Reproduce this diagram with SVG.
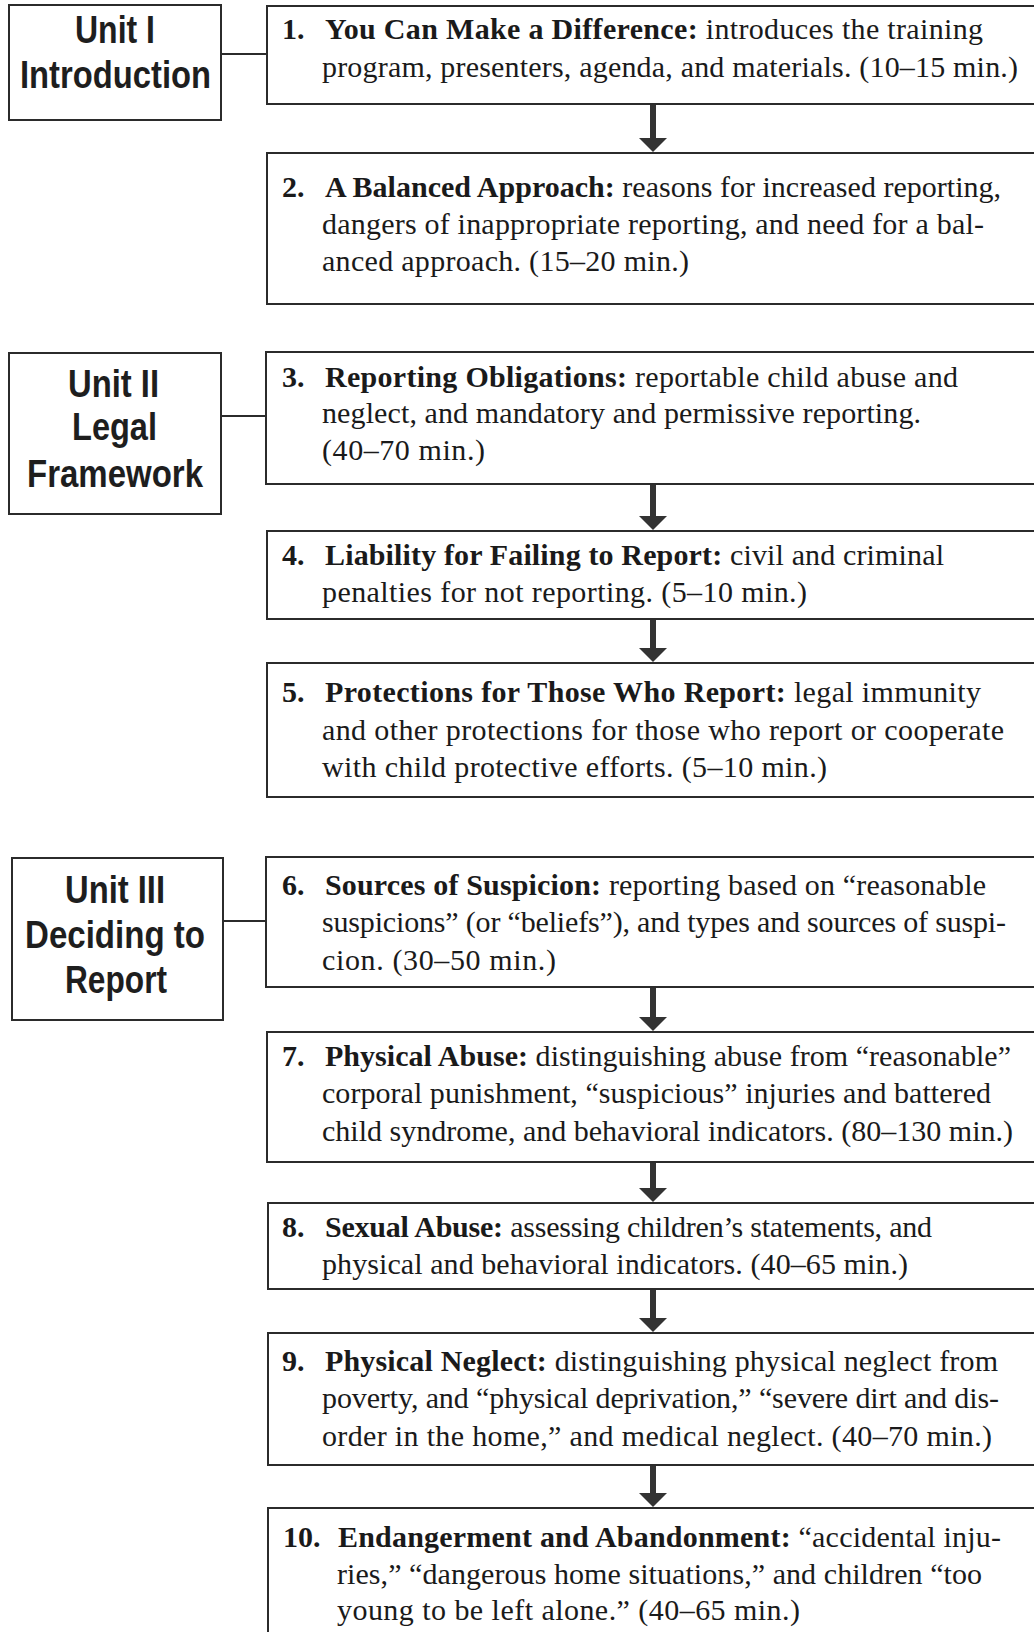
<svg xmlns="http://www.w3.org/2000/svg" width="1034" height="1632" viewBox="0 0 1034 1632">
<style>
.bg{fill:#ffffff}
.box{fill:#ffffff;stroke:#2b2b2b;stroke-width:2}
.unit{font-family:"Liberation Sans",Arial,sans-serif;font-weight:bold;font-size:38px;fill:#1e1e1e}
.t{font-family:"Liberation Serif","Times New Roman",serif;font-size:30px;fill:#1a1a1a}
.b{font-weight:bold}
.link{stroke:#2b2b2b;stroke-width:2;fill:none}
.shaft{stroke:#333333;stroke-width:6;fill:none}
</style>
<defs>
<marker id="head" viewBox="0 0 14 28" refX="4" refY="14" markerWidth="14" markerHeight="28" markerUnits="userSpaceOnUse" orient="auto">
<path d="M0,0 L14,14 L0,28 Z" fill="#333333"/>
</marker>
</defs>
<rect class="bg" x="0" y="0" width="1034" height="1632"/>

<g id="connectors">
<line class="link" x1="221" y1="54" x2="267" y2="54"/>
<line class="link" x1="221" y1="416" x2="266" y2="416"/>
<line class="link" x1="223" y1="921" x2="266" y2="921"/>
<path class="shaft" d="M653,105 V142" marker-end="url(#head)"/>
<path class="shaft" d="M653,485 V520" marker-end="url(#head)"/>
<path class="shaft" d="M653,620 V652" marker-end="url(#head)"/>
<path class="shaft" d="M653,988 V1021" marker-end="url(#head)"/>
<path class="shaft" d="M653,1163 V1192" marker-end="url(#head)"/>
<path class="shaft" d="M653,1290 V1322" marker-end="url(#head)"/>
<path class="shaft" d="M653,1466 V1497" marker-end="url(#head)"/>
</g>

<g id="unit1">
<rect class="box" x="9" y="5" width="212" height="115"/>
<text class="unit" x="75" y="43" textLength="80" lengthAdjust="spacingAndGlyphs">Unit I</text>
<text class="unit" x="20" y="88" textLength="191" lengthAdjust="spacingAndGlyphs">Introduction</text>
</g>

<g id="unit2">
<rect class="box" x="9" y="353" width="212" height="161"/>
<text class="unit" x="68" y="397" textLength="91" lengthAdjust="spacingAndGlyphs">Unit II</text>
<text class="unit" x="72" y="440" textLength="85" lengthAdjust="spacingAndGlyphs">Legal</text>
<text class="unit" x="27" y="487" textLength="176" lengthAdjust="spacingAndGlyphs">Framework</text>
</g>

<g id="unit3">
<rect class="box" x="12" y="858" width="211" height="162"/>
<text class="unit" x="65" y="903" textLength="100" lengthAdjust="spacingAndGlyphs">Unit III</text>
<text class="unit" x="25" y="948" textLength="180" lengthAdjust="spacingAndGlyphs">Deciding to</text>
<text class="unit" x="65" y="993" textLength="102" lengthAdjust="spacingAndGlyphs">Report</text>
</g>

<g id="item1">
<rect class="box" x="267" y="6" width="780" height="98"/>
<text class="t b" x="282" y="39">1.</text>
<text class="t" x="325" y="39" textLength="658" lengthAdjust="spacing"><tspan class="b">You Can Make a Difference:</tspan> introduces the training</text>
<text class="t" x="322" y="77" textLength="696" lengthAdjust="spacing">program, presenters, agenda, and materials. (10–15 min.)</text>
</g>

<g id="item2">
<rect class="box" x="267" y="153" width="780" height="151"/>
<text class="t b" x="282" y="197">2.</text>
<text class="t" x="325" y="197" textLength="676" lengthAdjust="spacing"><tspan class="b">A Balanced Approach:</tspan> reasons for increased reporting,</text>
<text class="t" x="322" y="234" textLength="662" lengthAdjust="spacing">dangers of inappropriate reporting, and need for a bal-</text>
<text class="t" x="322" y="271" textLength="367" lengthAdjust="spacing">anced approach. (15–20 min.)</text>
</g>

<g id="item3">
<rect class="box" x="266" y="352" width="780" height="132"/>
<text class="t b" x="282" y="387">3.</text>
<text class="t" x="325" y="387" textLength="633" lengthAdjust="spacing"><tspan class="b">Reporting Obligations:</tspan> reportable child abuse and</text>
<text class="t" x="322" y="423" textLength="599" lengthAdjust="spacing">neglect, and mandatory and permissive reporting.</text>
<text class="t" x="322" y="460" textLength="163" lengthAdjust="spacing">(40–70 min.)</text>
</g>

<g id="item4">
<rect class="box" x="267" y="531" width="780" height="88"/>
<text class="t b" x="282" y="565">4.</text>
<text class="t" x="325" y="565" textLength="619" lengthAdjust="spacing"><tspan class="b">Liability for Failing to Report:</tspan> civil and criminal</text>
<text class="t" x="322" y="602" textLength="485" lengthAdjust="spacing">penalties for not reporting. (5–10 min.)</text>
</g>

<g id="item5">
<rect class="box" x="267" y="663" width="780" height="134"/>
<text class="t b" x="282" y="702">5.</text>
<text class="t" x="325" y="702" textLength="656" lengthAdjust="spacing"><tspan class="b">Protections for Those Who Report:</tspan> legal immunity</text>
<text class="t" x="322" y="740" textLength="682" lengthAdjust="spacing">and other protections for those who report or cooperate</text>
<text class="t" x="322" y="777" textLength="505" lengthAdjust="spacing">with child protective efforts. (5–10 min.)</text>
</g>

<g id="item6">
<rect class="box" x="266" y="857" width="780" height="130"/>
<text class="t b" x="282" y="895">6.</text>
<text class="t" x="325" y="895" textLength="661" lengthAdjust="spacing"><tspan class="b">Sources of Suspicion:</tspan> reporting based on “reasonable</text>
<text class="t" x="322" y="932" textLength="684" lengthAdjust="spacing">suspicions” (or “beliefs”), and types and sources of suspi-</text>
<text class="t" x="322" y="970" textLength="234" lengthAdjust="spacing">cion. (30–50 min.)</text>
</g>

<g id="item7">
<rect class="box" x="267" y="1032" width="780" height="130"/>
<text class="t b" x="282" y="1066">7.</text>
<text class="t" x="325" y="1066" textLength="686" lengthAdjust="spacing"><tspan class="b">Physical Abuse:</tspan> distinguishing abuse from “reasonable”</text>
<text class="t" x="322" y="1103" textLength="669" lengthAdjust="spacing">corporal punishment, “suspicious” injuries and battered</text>
<text class="t" x="322" y="1141" textLength="691" lengthAdjust="spacing">child syndrome, and behavioral indicators. (80–130 min.)</text>
</g>

<g id="item8">
<rect class="box" x="268" y="1203" width="780" height="86"/>
<text class="t b" x="282" y="1237">8.</text>
<text class="t" x="325" y="1237" textLength="607" lengthAdjust="spacing"><tspan class="b">Sexual Abuse:</tspan> assessing children’s statements, and</text>
<text class="t" x="322" y="1274" textLength="586" lengthAdjust="spacing">physical and behavioral indicators. (40–65 min.)</text>
</g>

<g id="item9">
<rect class="box" x="268" y="1333" width="780" height="132"/>
<text class="t b" x="282" y="1371">9.</text>
<text class="t" x="325" y="1371" textLength="673" lengthAdjust="spacing"><tspan class="b">Physical Neglect:</tspan> distinguishing physical neglect from</text>
<text class="t" x="322" y="1408" textLength="677" lengthAdjust="spacing">poverty, and “physical deprivation,” “severe dirt and dis-</text>
<text class="t" x="322" y="1446" textLength="670" lengthAdjust="spacing">order in the home,” and medical neglect. (40–70 min.)</text>
</g>

<g id="item10">
<rect class="box" x="268" y="1508" width="780" height="140"/>
<text class="t b" x="283" y="1547">10.</text>
<text class="t" x="338" y="1547" textLength="663" lengthAdjust="spacing"><tspan class="b">Endangerment and Abandonment:</tspan> “accidental inju-</text>
<text class="t" x="337" y="1584" textLength="645" lengthAdjust="spacing">ries,” “dangerous home situations,” and children “too</text>
<text class="t" x="337" y="1620" textLength="463" lengthAdjust="spacing">young to be left alone.” (40–65 min.)</text>
</g>
</svg>
